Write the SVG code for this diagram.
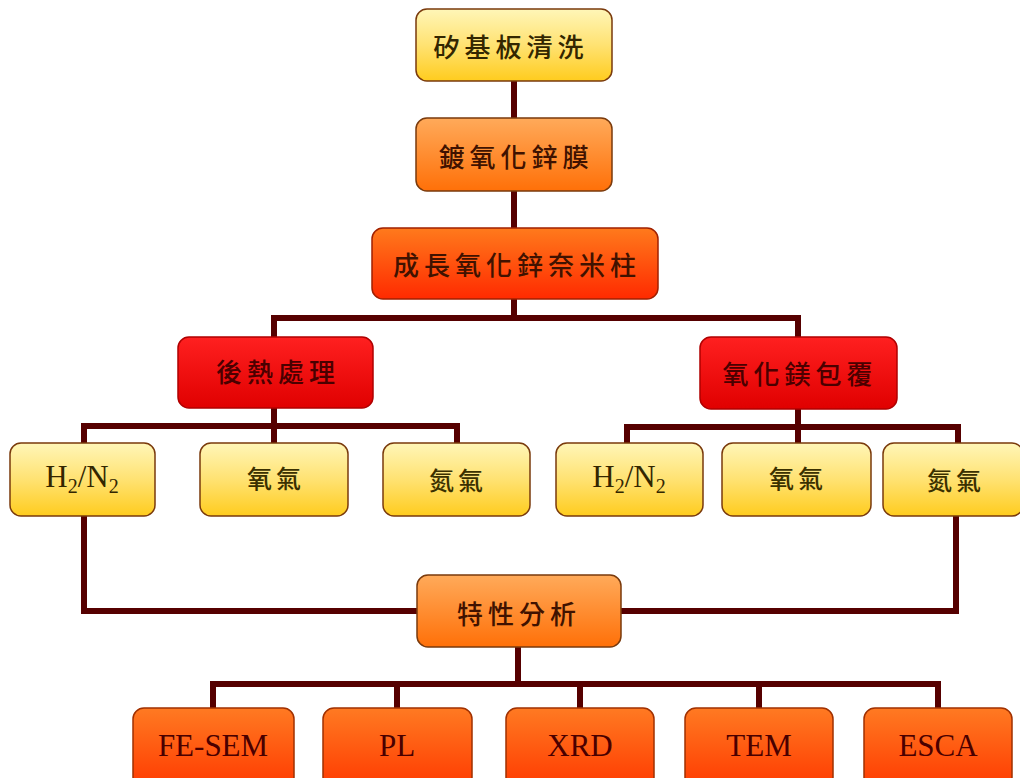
<svg xmlns="http://www.w3.org/2000/svg" width="1020" height="778" viewBox="0 0 1020 778">
<defs>
<linearGradient id="gY" x1="0" y1="0" x2="0" y2="1"><stop offset="0" stop-color="#fff6b8"/><stop offset="0.5" stop-color="#ffe272"/><stop offset="1" stop-color="#ffcc1e"/></linearGradient>
<linearGradient id="gO" x1="0" y1="0" x2="0" y2="1"><stop offset="0" stop-color="#ffaa5a"/><stop offset="1" stop-color="#ff7008"/></linearGradient>
<linearGradient id="gOR" x1="0" y1="0" x2="0" y2="1"><stop offset="0" stop-color="#ff7a1c"/><stop offset="1" stop-color="#ff2a00"/></linearGradient>
<linearGradient id="gR" x1="0" y1="0" x2="0" y2="1"><stop offset="0" stop-color="#ff2020"/><stop offset="1" stop-color="#e00000"/></linearGradient>
<linearGradient id="gB" x1="0" y1="0" x2="0" y2="1"><stop offset="0" stop-color="#ff7a22"/><stop offset="1" stop-color="#ff3a00"/></linearGradient>
</defs>
<style>
.box{stroke:#7a3a0c;stroke-width:1.5}
.y{fill:url(#gY)}
.o{fill:url(#gO)}
.or{fill:url(#gOR);stroke:#a02000}
.r{fill:url(#gR);stroke:#b00000}
.b{fill:url(#gB);stroke:#a03000}
.cj{font-family:"Noto Sans CJK TC","Noto Sans CJK SC",sans-serif;font-size:26px;font-weight:500;letter-spacing:5px;text-anchor:middle;dominant-baseline:central}
.cs{font-family:"Noto Sans CJK TC","Noto Sans CJK SC",sans-serif;font-size:25px;font-weight:500;letter-spacing:4px;text-anchor:middle;dominant-baseline:central;fill:#3a3000}
.lt{font-family:"Liberation Serif",serif;font-size:31px;text-anchor:middle}
.dy{fill:#332600}
.dr{fill:#4a0000}
.do{fill:#401200}
.con{fill:none;stroke:#560000;stroke-width:6;stroke-linejoin:miter;stroke-linecap:butt}
</style>
<rect width="1020" height="778" fill="#ffffff"/>
<g id="connectors">
<path class="con" d="M514,81V118"/>
<path class="con" d="M514,191V228"/>
<path class="con" d="M514,299V318"/>
<path class="con" d="M274,337V318H798V337"/>
<path class="con" d="M274,408V443"/>
<path class="con" d="M84,443V426H457V443"/>
<path class="con" d="M798,409V443"/>
<path class="con" d="M627,443V427H958V443"/>
<path class="con" d="M84,516V611H417"/>
<path class="con" d="M956,516V611H621"/>
<path class="con" d="M518,647V684"/>
<path class="con" d="M213,708V684H938V708"/>
<path class="con" d="M397,684V708"/>
<path class="con" d="M580,684V708"/>
<path class="con" d="M759,684V708"/>
</g>
<g id="n1"><rect class="box y" x="416" y="9" width="196" height="72" rx="11"/><text class="cj dy" x="511" y="45">矽基板清洗</text></g>
<g id="n2"><rect class="box o" x="416" y="118" width="196" height="73" rx="11"/><text class="cj do" x="516" y="155">鍍氧化鋅膜</text></g>
<g id="n3"><rect class="box or" x="372" y="228" width="286" height="71" rx="11"/><text class="cj do" x="517" y="263">成長氧化鋅奈米柱</text></g>
<g id="n4"><rect class="box r" x="178" y="337" width="195" height="71" rx="11"/><text class="cj dr" x="278" y="370">後熱處理</text></g>
<g id="n5"><rect class="box r" x="700" y="337" width="197" height="72" rx="11"/><text class="cj dr" x="800" y="372">氧化鎂包覆</text></g>
<g id="n6"><rect class="box y" x="10" y="443" width="145" height="73" rx="11"/><text class="lt dy" x="82" y="487">H<tspan font-size="20" dy="6">2</tspan><tspan dy="-6">/N</tspan><tspan font-size="20" dy="6">2</tspan></text></g>
<g id="n7"><rect class="box y" x="200" y="443" width="148" height="73" rx="11"/><text class="cs" x="276" y="477">氧氣</text></g>
<g id="n8"><rect class="box y" x="383" y="443" width="147" height="73" rx="11"/><text class="cs" x="458" y="479">氮氣</text></g>
<g id="n9"><rect class="box y" x="556" y="443" width="147" height="73" rx="11"/><text class="lt dy" x="629" y="487">H<tspan font-size="20" dy="6">2</tspan><tspan dy="-6">/N</tspan><tspan font-size="20" dy="6">2</tspan></text></g>
<g id="n10"><rect class="box y" x="722" y="443" width="149" height="73" rx="11"/><text class="cs" x="798" y="477">氧氣</text></g>
<g id="n11"><rect class="box y" x="883" y="443" width="140" height="73" rx="11"/><text class="cs" x="956" y="479">氮氣</text></g>
<g id="n12"><rect class="box o" x="417" y="575" width="204" height="72" rx="11"/><text class="cj do" x="519" y="612">特性分析</text></g>
<g id="n13"><rect class="box b" x="133" y="708" width="161" height="80" rx="11"/><text class="lt dr" x="213" y="756">FE-SEM</text></g>
<g id="n14"><rect class="box b" x="323" y="708" width="149" height="80" rx="11"/><text class="lt dr" x="397" y="756">PL</text></g>
<g id="n15"><rect class="box b" x="506" y="708" width="148" height="80" rx="11"/><text class="lt dr" x="580" y="756">XRD</text></g>
<g id="n16"><rect class="box b" x="685" y="708" width="148" height="80" rx="11"/><text class="lt dr" x="759" y="756">TEM</text></g>
<g id="n17"><rect class="box b" x="864" y="708" width="148" height="80" rx="11"/><text class="lt dr" x="938" y="756">ESCA</text></g>
</svg>
